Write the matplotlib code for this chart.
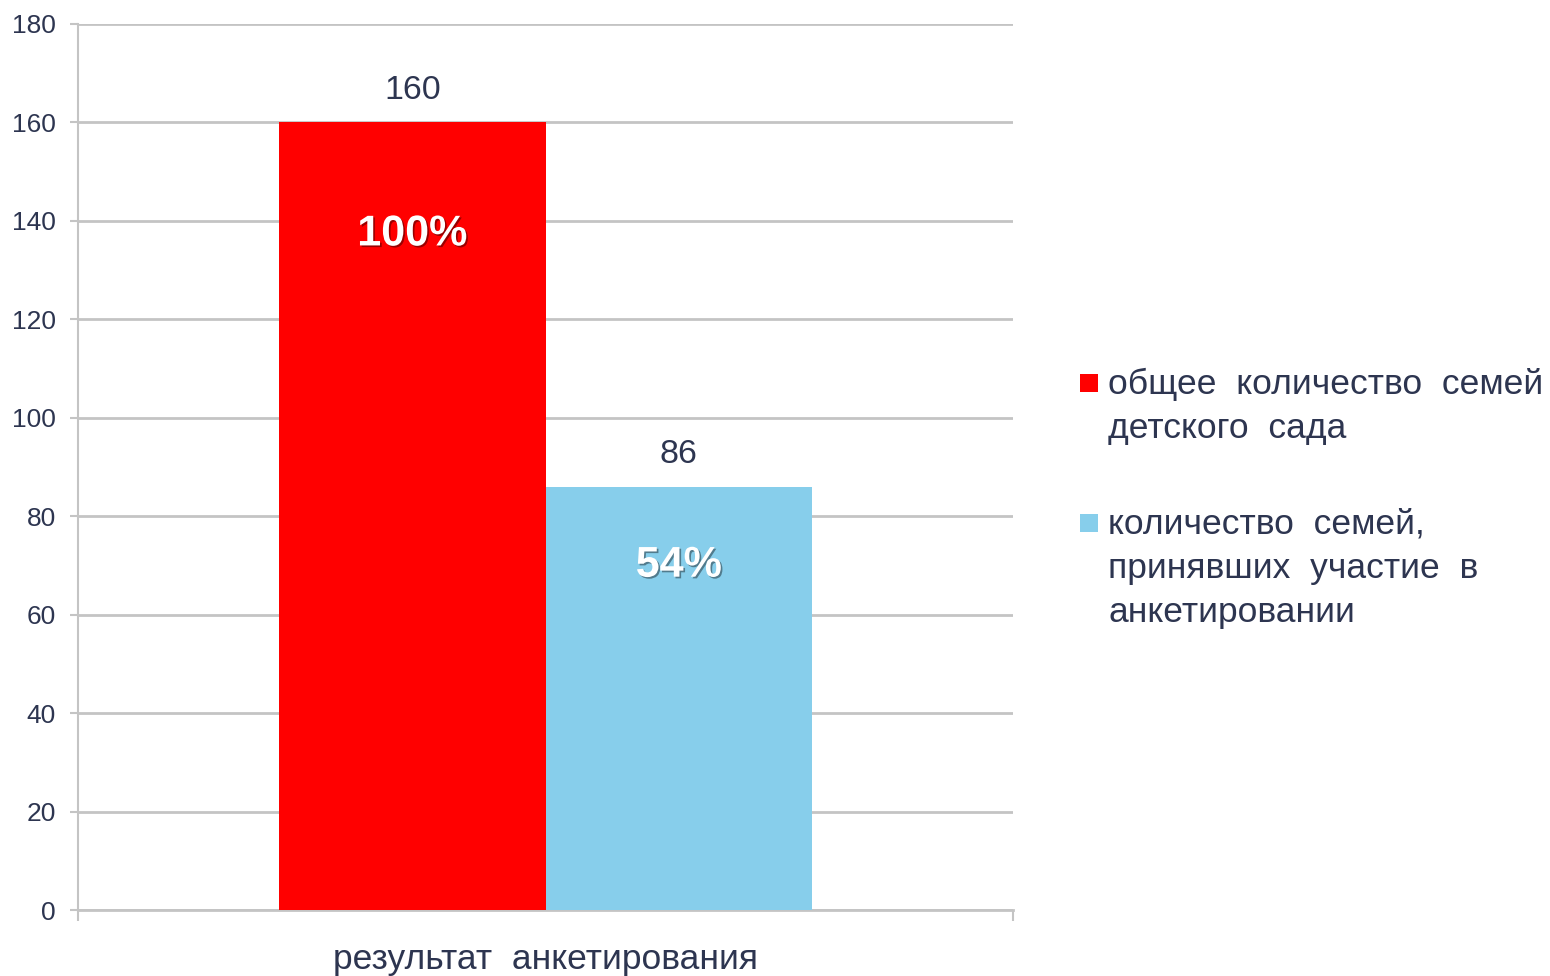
# Bar chart: survey result for the families of a kindergarten
import matplotlib.pyplot as plt
import matplotlib.patheffects as pe
from matplotlib.patches import Rectangle

plt.rcParams['font.family'] = ['Liberation Sans', 'DejaVu Sans']

category = "результат  анкетирования"
series_names = ["общее  количество  семей\nдетского  сада",
                "количество  семей,\nпринявших  участие  в\nанкетировании"]
values = [160, 86]
colors = ["#ff0000", "#87ceeb"]
yticks = [0, 20, 40, 60, 80, 100, 120, 140, 160, 180]

TEXT = "#2d3550"
GRID = "#c4c4c4"


def main():
	fig = plt.figure(figsize=(15.5, 9.76), dpi=100)
	ax = fig.add_axes([78 / 1550, 66 / 976, 935 / 1550, 886 / 976])

	w = 0.285
	xs = [-w / 2, w / 2]
	bars = ax.bar(xs, values, width=w, color=colors, zorder=3)

	total = values[0]
	pct_offsets = [-112, -79]  # px below bar top for the percent labels
	for b, v, off in zip(bars, values, pct_offsets):
		cx = b.get_x() + b.get_width() / 2
		ax.annotate(str(v), (cx, v), xytext=(0, 32 / 1.389), textcoords="offset points",
			ha="center", va="center", fontsize=24.5, color=TEXT)
		pct = "{}%".format(round(v / total * 100))
		ax.annotate(pct, (cx, v), xytext=(0, off / 1.389), textcoords="offset points",
			ha="center", va="center", fontsize=31, fontweight="bold", color="white",
			path_effects=[pe.SimplePatchShadow(offset=(1.2, -1.2), shadow_rgbFace="black", alpha=0.4),
				pe.Normal()], zorder=5)

	ax.set_xlim(-0.5, 0.5)
	ax.set_ylim(0, 180)
	ax.set_yticks(yticks)
	ax.set_xticks([-0.5, 0.5])
	ax.set_xticklabels([])
	ax.yaxis.grid(True, color=GRID, linewidth=2, zorder=0)
	ax.tick_params(axis="y", length=6, width=1.5, color=GRID, pad=10, labelsize=19, labelcolor=TEXT)
	ax.tick_params(axis="x", length=8, width=1.5, color=GRID)
	for s in ["top", "right"]:
		ax.spines[s].set_visible(False)
	ax.spines["left"].set_color(GRID)
	ax.spines["left"].set_linewidth(1.5)
	ax.spines["bottom"].set_color(GRID)
	ax.spines["bottom"].set_linewidth(2)

	ax.set_xlabel(category, fontsize=25.5, color=TEXT, labelpad=12)

	# legend drawn by hand so the square sits at the first text line
	legend_y = [383, 523]
	for name, c, ly in zip(series_names, colors, legend_y):
		fig.patches.append(Rectangle((1080 / 1550, 1 - (ly + 9) / 976), 18 / 1550, 18 / 976,
			transform=fig.transFigure, facecolor=c, edgecolor="none"))
		fig.text(1108 / 1550, 1 - (ly - 15) / 976, name, ha="left", va="top",
			fontsize=25.5, color=TEXT, linespacing=1.42)

	fig.savefig("out.png", dpi=100)


if __name__ == "__main__":
	main()
